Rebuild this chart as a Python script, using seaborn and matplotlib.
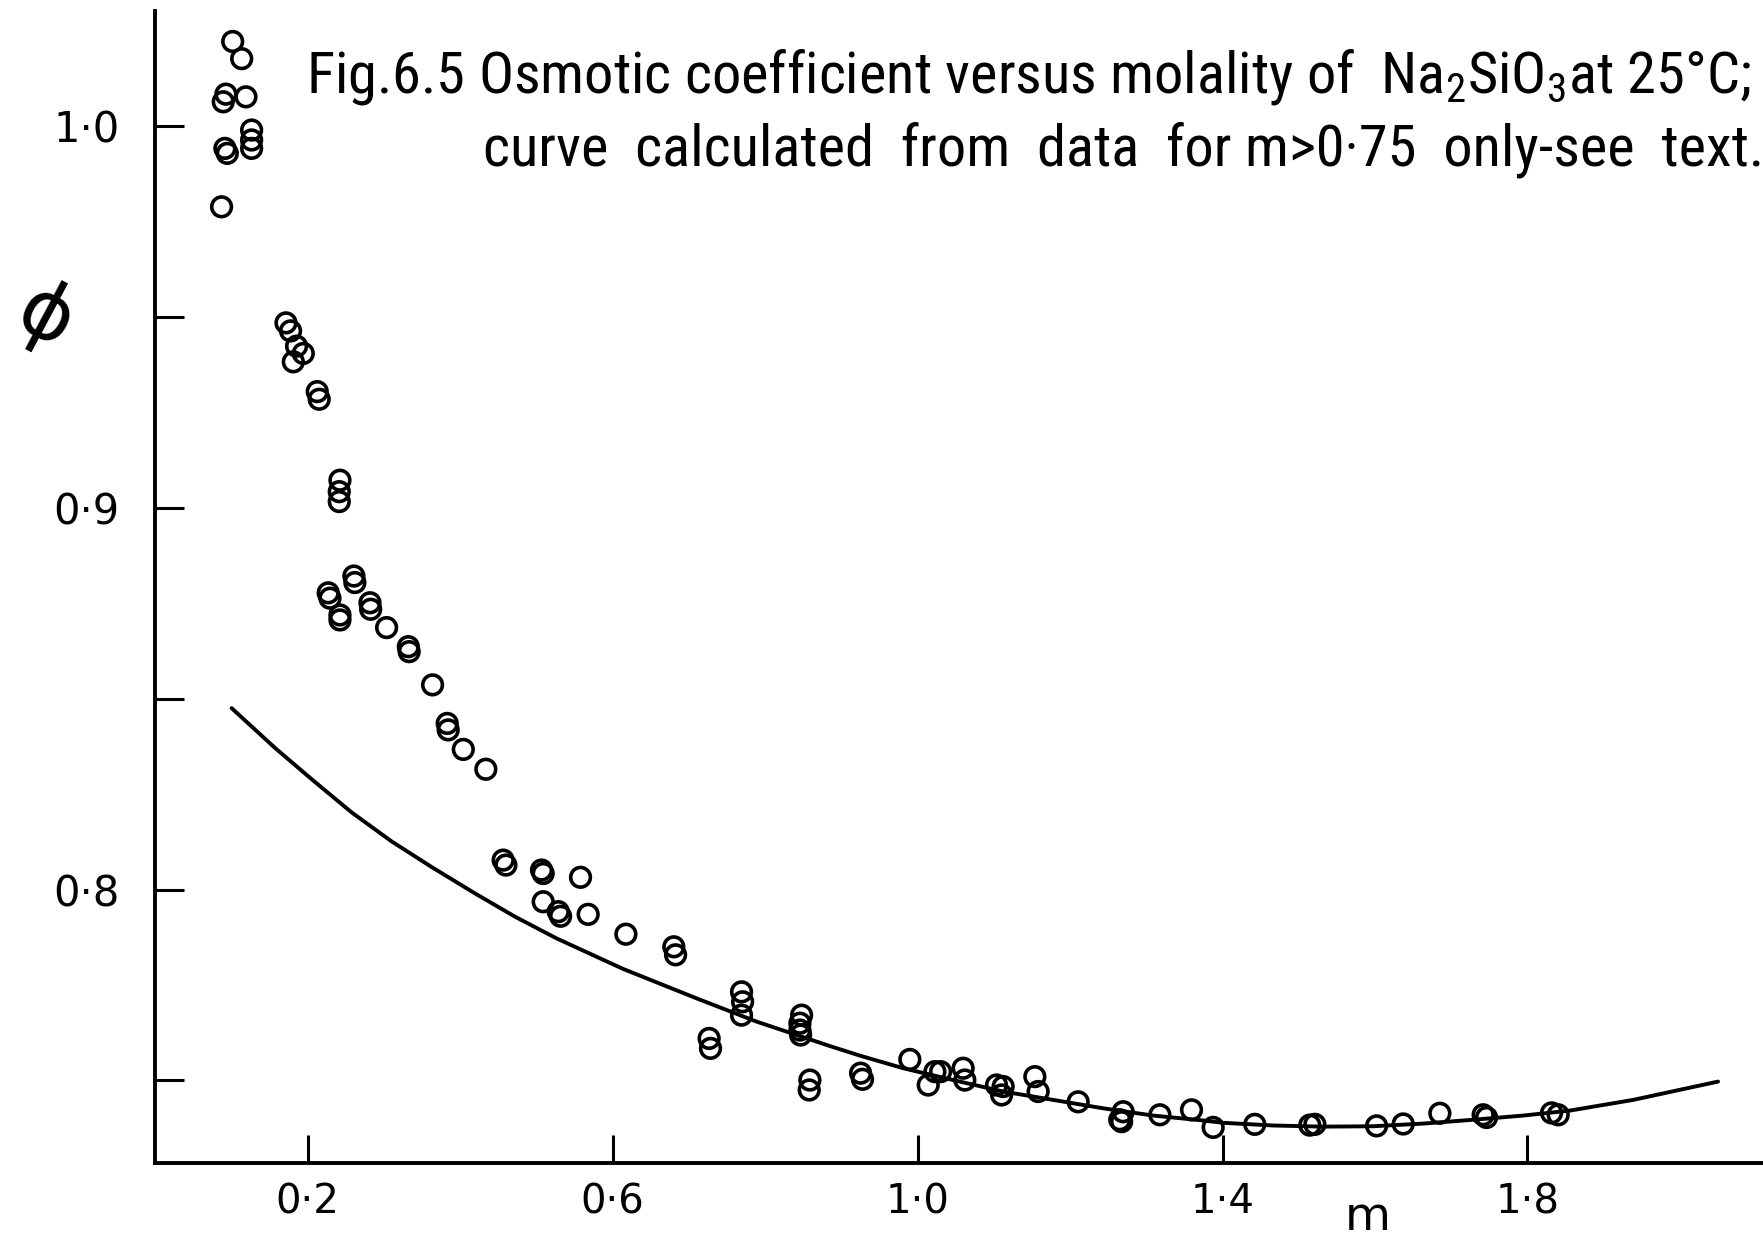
import matplotlib
matplotlib.use("Agg")
import matplotlib.pyplot as plt
from matplotlib import font_manager as fm
import seaborn as sns
import pandas as pd

# Measured osmotic coefficients of Na2SiO3 solutions
molality = [
    0.1015, 0.1133, 0.0926, 0.0891, 0.1189, 0.0913, 0.0944, 0.1263, 0.1263, 0.1263, 0.0869,
    0.1714, 0.1774, 0.1853, 0.1941, 0.1810, 0.2124, 0.2150, 0.2422, 0.2413, 0.2413,
    0.2605, 0.2618, 0.2268, 0.2291, 0.2422, 0.2422, 0.2816, 0.2825, 0.3034, 0.3319,
    0.3330, 0.3637, 0.3829, 0.3842, 0.4040, 0.4336,
    0.4563, 0.4599, 0.5066, 0.5088, 0.5578, 0.5088, 0.5286, 0.5316, 0.5678, 0.6173,
    0.6802, 0.6825, 0.7690, 0.7704, 0.7690, 0.7265, 0.7283, 0.8478, 0.8456, 0.8456,
    0.8465, 0.8587, 0.8578,
    0.9252, 0.9277, 0.9898, 1.0227, 1.0301, 1.0139, 1.0597, 1.0619, 1.1035, 1.1102,
    1.1122, 1.1538, 1.1581, 1.2106, 1.2696, 1.2652, 1.2676, 1.3178, 1.3593,
    1.3877, 1.4423, 1.5145, 1.5211, 1.6021, 1.6370, 1.6851, 1.7419, 1.7463, 1.8316, 1.8403,
]
osmotic = [
    1.0221, 1.0176, 1.0083, 1.0063, 1.0076, 0.9941, 0.9928, 0.9989, 0.9963, 0.9941, 0.9788,
    0.9484, 0.9463, 0.9423, 0.9404, 0.9382, 0.9304, 0.9284, 0.9072, 0.9042, 0.9016,
    0.8821, 0.8804, 0.8777, 0.8763, 0.8719, 0.8706, 0.8751, 0.8734, 0.8686, 0.8636,
    0.8623, 0.8536, 0.8435, 0.8418, 0.8367, 0.8315,
    0.8077, 0.8064, 0.8051, 0.8042, 0.8032, 0.7968, 0.7942, 0.7930, 0.7935, 0.7883,
    0.7850, 0.7829, 0.7732, 0.7706, 0.7671, 0.7610, 0.7584, 0.7671, 0.7650, 0.7632,
    0.7619, 0.7501, 0.7475,
    0.7519, 0.7503, 0.7555, 0.7523, 0.7523, 0.7488, 0.7532, 0.7501, 0.7488, 0.7462,
    0.7484, 0.7510, 0.7471, 0.7444, 0.7418, 0.7397, 0.7392, 0.7410, 0.7423,
    0.7377, 0.7385, 0.7383, 0.7385, 0.7381, 0.7386, 0.7414, 0.7410, 0.7403, 0.7415, 0.7410,
]

# Calculated curve (fitted to m > 0.75)
curve_m = [0.1001, 0.1569, 0.2050, 0.2575, 0.3100, 0.3624, 0.4192, 0.4717, 0.5264, 0.6137,
           0.7100, 0.7888, 0.8850, 0.9242, 0.9811, 1.0466, 1.1122, 1.1779, 1.2434, 1.3090,
           1.3702, 1.4009, 1.4664, 1.5320, 1.5976, 1.6631, 1.7288, 1.7944, 1.8556, 1.9386,
           2.0500]
curve_phi = [0.8475, 0.8371, 0.8289, 0.8202, 0.8126, 0.8059, 0.7990, 0.7929, 0.7872, 0.7792,
             0.7715, 0.7654, 0.7590, 0.7565, 0.7532, 0.7501, 0.7471, 0.7449, 0.7427, 0.7408,
             0.7396, 0.7389, 0.7382, 0.7379, 0.7380, 0.7387, 0.7397, 0.7408, 0.7421, 0.7449,
             0.7497]

x_ticks = [0.2, 0.6, 1.0, 1.4, 1.8]
x_tick_labels = ["0·2", "0·6", "1·0", "1·4", "1·8"]
y_ticks = [0.75, 0.80, 0.85, 0.90, 0.95, 1.00]
y_tick_labels = ["", "0·8", "", "0·9", "", "1·0"]

title_line1 = "Fig.6.5 Osmotic coefficient versus molality of  Na$_2$SiO$_3$at 25°C;"
title_line2 = "curve  calculated  from  data  for m>0·75  only-see  text."


def condensed_font():
    """Return (family, stretch) for a narrow sans face if one is installed."""
    for fam in ("Liberation Sans Narrow", "DejaVu Sans Condensed", "Roboto Condensed",
                "Open Sans Condensed"):
        try:
            fm.findfont(fm.FontProperties(family=fam), fallback_to_default=False)
            return fam, "normal"
        except Exception:
            pass
    path = fm.findfont(fm.FontProperties(family="DejaVu Sans", stretch="condensed"))
    if "Condensed" in path:
        return "DejaVu Sans", "condensed"
    return "DejaVu Sans", "normal"


sns.set_theme(style="ticks")
narrow, stretch = condensed_font()
plt.rcParams["font.family"] = ["DejaVu Sans"]
title_size = 42 if (narrow != "DejaVu Sans" or stretch == "condensed") else 32.5

fig = plt.figure(figsize=(17.63, 12.38), dpi=100)
fig.patch.set_facecolor("white")
ax = fig.add_axes([0.0881, 0.0609, 0.9119, 0.9300])
ax.set_facecolor("white")

points = pd.DataFrame({"m": molality, "phi": osmotic})
curve = pd.DataFrame({"m": curve_m, "phi": curve_phi})

sns.lineplot(data=curve, x="m", y="phi", sort=False, estimator=None,
             color="black", linewidth=2.8, ax=ax, zorder=2)
sns.scatterplot(data=points, x="m", y="phi", marker="o", s=200,
                facecolor="none", edgecolor="black", linewidth=2.6, ax=ax, zorder=3)

ax.set_xlim(0, 2.109)
ax.set_ylim(0.72848, 1.03001)

for side in ("top", "right"):
    ax.spines[side].set_visible(False)
for side in ("left", "bottom"):
    ax.spines[side].set_linewidth(2.8)
    ax.spines[side].set_color("black")

ax.set_xticks(x_ticks)
ax.set_xticklabels(x_tick_labels)
ax.set_yticks(y_ticks)
ax.set_yticklabels(y_tick_labels)
ax.tick_params(axis="x", direction="in", length=20, width=2.2, pad=14,
               labelsize=29, colors="black")
ax.tick_params(axis="y", direction="in", length=21, width=2.2, pad=26,
               labelsize=30, colors="black")
ax.set_xlabel("")
ax.set_ylabel("")

# axis symbols
ax.text(1.591, -0.048, "m", transform=ax.get_xaxis_transform(),
        ha="center", va="center", fontsize=34, color="black")
fig.text(0.0255, 0.743, "ϕ", ha="center", va="center", fontsize=58,
         rotation=-28, color="black")

# caption
title_kw = dict(ha="left", va="center", fontsize=title_size,
                family=[narrow, "DejaVu Sans"], fontstretch=stretch, color="black")
plt.rcParams["mathtext.fontset"] = "custom"
plt.rcParams["mathtext.rm"] = narrow
fig.text(0.1735, 0.938, title_line1, **title_kw)
fig.text(0.274, 0.879, title_line2, **title_kw)

fig.savefig("out.png", dpi=100, facecolor="white")
